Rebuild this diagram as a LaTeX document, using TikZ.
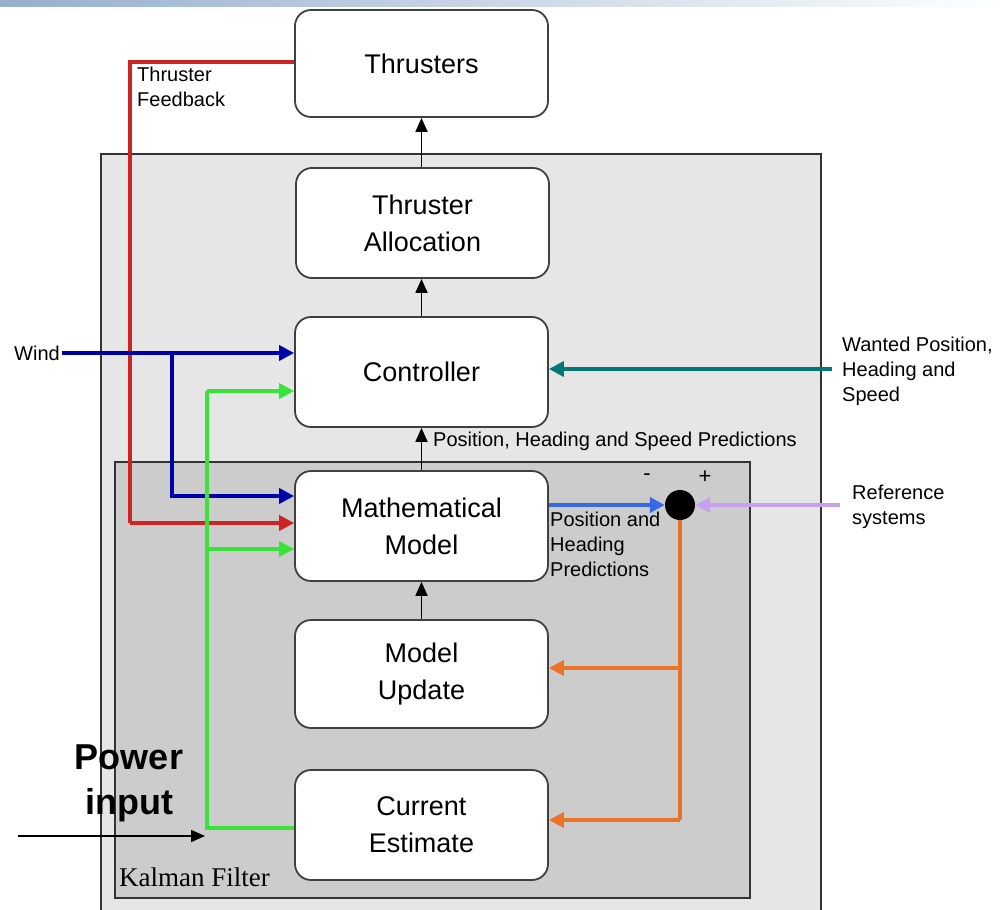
\documentclass[tikz,border=0pt]{standalone}
\usepackage{fontspec}
\setmainfont{Liberation Sans}
\newfontfamily\kalfont{Liberation Serif}
\usetikzlibrary{arrows.meta}
\definecolor{fbred}{RGB}{205,35,35}
\definecolor{windblue}{RGB}{0,0,170}
\definecolor{estgreen}{RGB}{55,228,55}
\definecolor{predblue}{RGB}{55,105,230}
\definecolor{refpurple}{RGB}{200,160,240}
\definecolor{corrorange}{RGB}{235,115,40}
\definecolor{wantteal}{RGB}{0,120,120}
\definecolor{outergray}{RGB}{230,230,230}
\definecolor{innergray}{RGB}{204,204,204}
\definecolor{bannerblue}{RGB}{150,175,205}
\tikzset{
  blockbox/.style={draw=black!75, line width=1.8pt, rounded corners=16pt, fill=white,
    minimum width=253pt, minimum height=110pt, align=center, inner sep=0pt,
    font=\fontsize{27}{37}\selectfont},
  lbl/.style={inner sep=0pt, align=left, font=\fontsize{20}{25}\selectfont},
  blackarrow/.style={line width=1.8pt, -{Triangle[length=14pt,width=12pt]}},
  colarrow/.style={line width=4pt, -{Triangle[length=15pt,width=15pt]}},
  colline/.style={line width=4pt},
}
\begin{document}
\begin{tikzpicture}[x=1pt,y=-1pt]
\useasboundingbox (0,0) rectangle (1005,910);
% banner strip
\shade[left color=bannerblue, right color=white] (0,0) rectangle (1005,6);
% outer and inner panels
\draw[fill=outergray, draw=black!80, line width=1.6pt] (101,154) rectangle (821,930);
\draw[fill=innergray, draw=black!80, line width=1.6pt] (115,462) rectangle (750,898);
\node[anchor=west, inner sep=0pt, font=\kalfont\fontsize{27}{30}\selectfont] (kal) at (119,877) {Kalman Filter};

% blocks
\node[blockbox, minimum height=107pt] (thr) at (421.5,63.5) {Thrusters};
\node[blockbox] (alloc) at (422.5,223) {Thruster\\Allocation};
\node[blockbox] (ctrl) at (421.5,372) {Controller};
\node[blockbox] (mm) at (421.5,526) {Mathematical\\Model};
\node[blockbox, minimum height=108pt] (mu) at (421.5,674) {Model\\Update};
\node[blockbox] (ce) at (421.5,825) {Current\\Estimate};

% summing junction
\node[circle, fill=black, minimum size=30pt, inner sep=0pt] (sum) at (680,505) {};
\node[lbl, font=\fontsize{22}{25}\selectfont] (minus) at (647,477) {-};
\node[lbl, font=\fontsize{22}{25}\selectfont] (plus) at (705,477) {+};

% coordinates
\coordinate (windstart) at (62,353);
\coordinate (windsplit) at (172,353);
\coordinate (fbcorner) at (130,62);
\coordinate (fbdown) at (130,523);
\coordinate (greencorner) at (207,828);
\coordinate (greentop) at (207,391);
\coordinate (greenmid) at (207,549);
\coordinate (powerstart) at (18,836);
\coordinate (powerend) at (205,836);
\coordinate (refstart) at (840,505);
\coordinate (wantstart) at (832,369);
\coordinate (orangebot) at (680,820);
\coordinate (orangemid) at (680,668);

% black flow arrows
\draw[blackarrow] (alloc.north -| thr.south) -- (thr.south);
\draw[blackarrow] (ctrl.north) -- (alloc.south -| ctrl.north);
\draw[blackarrow] (mm.north) -- (ctrl.south);
\draw[blackarrow] (mu.north) -- (mm.south);

% thruster feedback (red)
\draw[colline, fbred] (thr.west |- fbcorner) -- (fbcorner) -- (fbdown);
\draw[colarrow, fbred] (fbdown) -- (mm.west |- fbdown);

% wind (blue)
\draw[colarrow, windblue] (windstart) -- (ctrl.west |- windstart);
\draw[colarrow, windblue] (windsplit) |- (mm.west |- 0,496);

% current estimate (green)
\draw[colline, estgreen] (ce.west |- greencorner) -- (greencorner) -- (greentop);
\draw[colarrow, estgreen] (greentop) -- (ctrl.west |- greentop);
\draw[colarrow, estgreen] (greenmid) -- (mm.west |- greenmid);

% power input
\draw[line width=1.6pt, -{Triangle[length=14pt,width=12pt]}] (powerstart) -- (powerend);
\node[inner sep=0pt, align=center, font=\bfseries\fontsize{36}{45}\selectfont] (power) at (129,783) {Power\\input};

% predictions (blue) into sum
\draw[colarrow, predblue] (mm.east |- sum.west) -- (sum.west);
% reference systems (purple)
\draw[colarrow, refpurple] (refstart) -- (sum.east);
% wanted position (teal)
\draw[colarrow, wantteal] (wantstart) -- (ctrl.east |- wantstart);
% correction (orange)
\draw[colline, corrorange] (sum.south) -- (orangebot);
\draw[colarrow, corrorange] (orangebot) -- (ce.east |- orangebot);
\draw[colarrow, corrorange] (orangemid) -- (mu.east |- orangemid);

% labels
\node[lbl, anchor=west] (windlbl) at (14,353) {Wind};
\node[lbl, anchor=north west] (fblbl) at (137,67) {Thruster\\Feedback};
\node[lbl, anchor=west] (psplbl) at (433,441) {Position, Heading and Speed Predictions};
\node[lbl, anchor=north west] (phplbl) at (550,512) {Position and\\Heading\\Predictions};
\node[lbl, anchor=north west] (wantlbl) at (842,337) {Wanted Position,\\Heading and\\Speed};
\node[lbl, anchor=north west] (reflbl) at (852,485) {Reference\\systems};
\end{tikzpicture}
\end{document}
